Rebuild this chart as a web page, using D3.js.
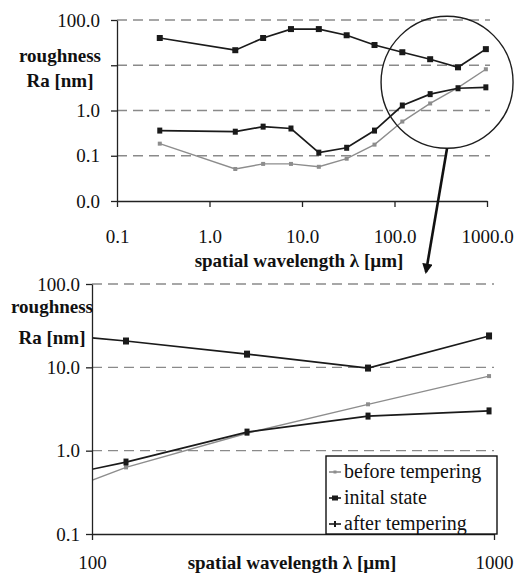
<!DOCTYPE html>
<html>
<head>
<meta charset="utf-8">
<script src="https://cdn.jsdelivr.net/npm/d3@7"></script>
<style>
  body { margin: 0; background: #fff; }
</style>
</head>
<body>
<svg id="chart" width="517" height="576"></svg>
<script>
// spatial wavelength [µm] of the measured points
let wavelength = [0.29, 1.9, 3.8, 7.6, 15.2, 30.4, 60.8, 121.5, 243, 486, 972];
// overview chart, Ra [nm]
let initialTop = [40, 21.5, 40, 63, 63, 46, 28, 19.4, 13.6, 9.0, 22.7];
let afterTop = [0.36, 0.34, 0.44, 0.40, 0.117, 0.15, 0.36, 1.29, 2.3, 3.1, 3.25];
let beforeTop = [0.185, 0.051, 0.066, 0.066, 0.057, 0.086, 0.176, 0.57, 1.43, 3.2, 8.15];
// detail chart (100 - 1000 µm), as drawn
let wavelengthDetail = [60.8, 121.5, 243, 486, 972];
let initialDetail = [28, 20.7, 14.4, 9.8, 23.8];
let afterDetail = [0.36, 0.73, 1.67, 2.6, 3.0];
let beforeDetail = [0.176, 0.63, 1.62, 3.6, 7.85];

let legendLabels = ["before tempering", "inital state", "after tempering"];
let topXTicks = [0.1, 1, 10, 100, 1000];
let topYTicks = [100, 10, 1, 0.1, 0.01];
let detailXTicks = [100, 1000];
let detailYTicks = [100, 10, 1, 0.1];

const svg = d3.select("#chart");
const fmt = d3.format(".1f");
const gray = "#8d8d8d", black = "#1a1a1a";
const serif = "'Liberation Serif', 'Times New Roman', Tinos, 'DejaVu Serif', serif";

// ---------- overview chart ----------
let x1 = d3.scaleLog().domain([0.1, 1000]).range([117, 487]);
let y1 = d3.scaleLog().domain([0.01, 100]).range([201, 20]);

function grid(g, x, y, ticks, x0, x1end) {
    g.selectAll("line.grid")
        .data(ticks)
        .join("line")
        .attr("x1", x0).attr("x2", x1end)
        .attr("y1", d => y(d)).attr("y2", d => y(d))
        .attr("stroke", "#8a8a8a")
        .attr("stroke-width", 1.3)
        .attr("stroke-dasharray", "10,6");
}

function styleAxis(g) {
    g.select(".domain").attr("stroke", "#222").attr("stroke-width", 1.3);
    g.selectAll(".tick line").attr("stroke", "#222").attr("stroke-width", 1.3);
    g.selectAll(".tick text").attr("fill", "#111")
        .style("font-family", serif).style("font-size", "19px");
}

function title(g, x, y, txt) {
    return g.append("text").attr("x", x).attr("y", y).attr("text-anchor", "middle")
        .attr("fill", "#111")
        .style("font-family", serif).style("font-size", "19px").style("font-weight", "bold")
        .text(txt);
}

function series(g, x, y, xs, ys, color, width, marker) {
    let pts = xs.map((d, i) => [d, ys[i]]);
    g.append("path")
        .datum(pts)
        .attr("fill", "none")
        .attr("stroke", color)
        .attr("stroke-width", width)
        .attr("d", d3.line().x(d => x(d[0])).y(d => y(d[1])));
    g.selectAll(null)
        .data(pts)
        .join("rect")
        .attr("x", d => x(d[0]) - marker.w / 2)
        .attr("y", d => y(d[1]) - marker.h / 2)
        .attr("width", marker.w)
        .attr("height", marker.h)
        .attr("fill", color);
}

const gTop = svg.append("g");
grid(gTop, x1, y1, [100, 10, 1, 0.1], 117, 490);

gTop.append("g")
    .attr("transform", "translate(0,201)")
    .call(d3.axisBottom(x1).tickValues(topXTicks).tickSize(6).tickSizeOuter(0)
        .tickPadding(23).tickFormat(fmt))
    .call(styleAxis);

gTop.append("g")
    .attr("transform", "translate(117,0)")
    .call(d3.axisLeft(y1).tickValues(topYTicks).tickSize(6).tickSizeOuter(0)
        .tickPadding(11).tickFormat(d => d === 10 ? "" : fmt(d)))
    .call(styleAxis);

series(gTop, x1, y1, wavelength, beforeTop, gray, 1.4, {w: 4, h: 4});
series(gTop, x1, y1, wavelength, afterTop, black, 1.7, {w: 5, h: 6});
series(gTop, x1, y1, wavelength, initialTop, black, 1.7, {w: 6, h: 6});

title(gTop, 60, 62, "roughness");
title(gTop, 60, 87, "Ra [nm]");
title(gTop, 299, 267, "spatial wavelength λ [µm]");

// zoom circle and arrow
const cx = x1(370), cy = y1(4.2);
gTop.append("circle").attr("cx", cx).attr("cy", cy).attr("r", 66)
    .attr("fill", "none").attr("stroke", "#1e1e1e").attr("stroke-width", 1.4);

svg.append("defs").append("marker")
    .attr("id", "head").attr("viewBox", "0 0 10 10")
    .attr("refX", 8).attr("refY", 5)
    .attr("markerWidth", 4).attr("markerHeight", 4)
    .attr("orient", "auto")
    .append("path").attr("d", "M0,0L10,5L0,10Z").attr("fill", "#111");

gTop.append("line")
    .attr("x1", cx).attr("y1", cy + 66)
    .attr("x2", 426).attr("y2", 272)
    .attr("stroke", "#111").attr("stroke-width", 2.6)
    .attr("marker-end", "url(#head)");

// ---------- detail chart ----------
let x2 = d3.scaleLog().domain([100, 1000]).range([92, 494]);
let y2 = d3.scaleLog().domain([0.1, 100]).range([534, 284]);

const gBot = svg.append("g");
grid(gBot, x2, y2, [100, 10, 1], 92, 494);

svg.select("defs").append("clipPath").attr("id", "clip2")
    .append("rect").attr("x", 92).attr("y", 284).attr("width", 402).attr("height", 250);

const plot2 = gBot.append("g").attr("clip-path", "url(#clip2)");
series(plot2, x2, y2, wavelengthDetail, beforeDetail, gray, 1.4, {w: 4, h: 4});
series(plot2, x2, y2, wavelengthDetail, afterDetail, black, 1.7, {w: 5, h: 7});
series(plot2, x2, y2, wavelengthDetail, initialDetail, black, 1.7, {w: 6, h: 7});

gBot.append("g")
    .attr("transform", "translate(0,534)")
    .call(d3.axisBottom(x2).tickValues(detailXTicks).tickSize(6).tickSizeOuter(0)
        .tickPadding(16).tickFormat(d3.format("d")))
    .call(styleAxis);

gBot.append("g")
    .attr("transform", "translate(92,0)")
    .call(d3.axisLeft(y2).tickValues(detailYTicks).tickSize(6).tickSizeOuter(0)
        .tickPadding(6).tickFormat(fmt))
    .call(styleAxis);

title(gBot, 52, 313, "roughness");
title(gBot, 52, 344, "Ra [nm]");
title(gBot, 292, 569, "spatial wavelength λ [µm]");

// legend
const leg = gBot.append("g").attr("transform", "translate(326,456)");
leg.append("rect").attr("width", 171).attr("height", 78)
    .attr("fill", "#fff").attr("stroke", "#111").attr("stroke-width", 1.4);
let legStyle = [
    {color: gray, w: 3, h: 3},
    {color: black, w: 6, h: 5},
    {color: black, w: 2, h: 6}
];
legendLabels.forEach((label, i) => {
    let yy = 16 + i * 26;
    leg.append("line").attr("x1", 3).attr("x2", 15).attr("y1", yy).attr("y2", yy)
        .attr("stroke", legStyle[i].color).attr("stroke-width", 1.6);
    leg.append("rect").attr("x", 9 - legStyle[i].w / 2).attr("y", yy - legStyle[i].h / 2)
        .attr("width", legStyle[i].w).attr("height", legStyle[i].h)
        .attr("fill", legStyle[i].color);
    leg.append("text").attr("x", 18).attr("y", yy + 6).attr("fill", "#111")
        .style("font-family", serif).style("font-size", "20px").text(label);
});
</script>
</body>
</html>
